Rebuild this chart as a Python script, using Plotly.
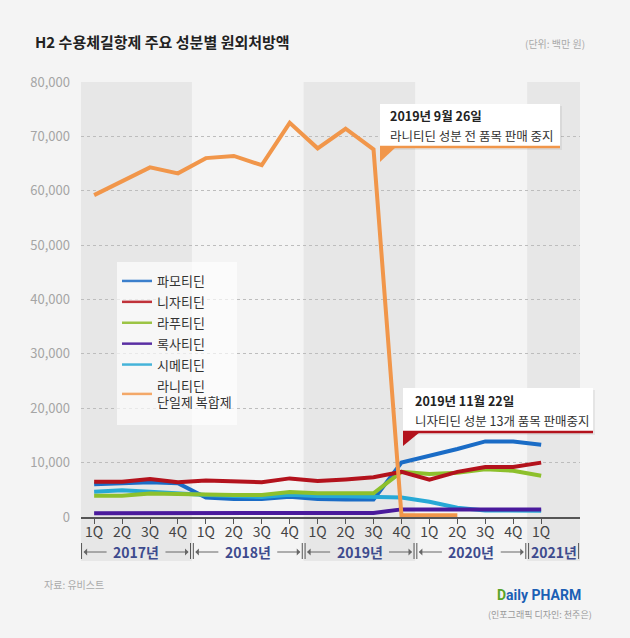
import plotly.graph_objects as go

# ---------------- data ----------------
periods = ["2017 1Q", "2017 2Q", "2017 3Q", "2017 4Q",
           "2018 1Q", "2018 2Q", "2018 3Q", "2018 4Q",
           "2019 1Q", "2019 2Q", "2019 3Q", "2019 4Q",
           "2020 1Q", "2020 2Q", "2020 3Q", "2020 4Q",
           "2021 1Q"]
quarter_labels = ["1Q", "2Q", "3Q", "4Q", "1Q", "2Q", "3Q", "4Q",
                  "1Q", "2Q", "3Q", "4Q", "1Q", "2Q", "3Q", "4Q", "1Q"]
years = ["2017년", "2018년", "2019년", "2020년", "2021년"]
quarters_per_year = [4, 4, 4, 4, 1]

famotidine = [6000, 6200, 6400, 6200, 3600, 3300, 3300, 3700, 3300, 3200, 3200,
              10000, 11200, 12500, 13900, 13900, 13300]
nizatidine = [6500, 6500, 7000, 6400, 6700, 6550, 6400, 7100, 6600, 6900, 7300,
              8300, 6850, 8300, 9200, 9200, 10000]
lafutidine = [3900, 3900, 4300, 4150, 4150, 4050, 4050, 4600, 4350, 4350, 4350,
              8300, 7900, 8150, 8800, 8500, 7600]
roxatidine = [700, 700, 700, 700, 700, 700, 700, 700, 700, 700, 750,
              1400, 1400, 1400, 1350, 1350, 1400]
cimetidine = [4650, 4900, 4650, 4300, 4050, 3850, 3700, 4100, 3850, 3800, 3700,
              3600, 2800, 1700, 1200, 1200, 1150]
ranitidine = [59200, 61700, 64300, 63200, 66000, 66400, 64700, 72500, 67800, 71400, 67600,
              300, 300, 300, None, None, None]

FONT = "Noto Sans CJK KR, Noto Sans, sans-serif"

# layout geometry (pixels)
W, H = 630, 638
L, R, T, B = 81, 580, 82, 517


def px(x):
    return (x - L) / (R - L)


def py(y):
    return (B - y) / (B - T)


# (name, values, line colour, legend colour, legend rank)
series = [
    ("파모티딘", famotidine, "#1a6cc6", "#3b7fcc", 1),
    ("시메티딘", cimetidine, "#27a9d6", "#45b3d9", 5),
    ("라푸티딘", lafutidine, "#8dc02c", "#9cc445", 3),
    ("니자티딘", nizatidine, "#b3121c", "#c0323a", 2),
    ("록사티딘", roxatidine, "#4a1a9c", "#5a2fa3", 4),
    ("라니티딘<br>단일제 복합제", ranitidine, "#f1964a", "#f3a869", 6),
]

fig = go.Figure()
for name, vals, color, lcolor, rank in series:
    fig.add_trace(go.Scatter(
        x=periods, y=vals, name=name, mode="lines",
        line=dict(color=color, width=4), showlegend=False,
        hoverinfo="skip"))
for name, vals, color, lcolor, rank in series:
    # legend-only entry with a thinner sample line
    fig.add_trace(go.Scatter(
        x=[None], y=[None], name=name, mode="lines", legendgroup=name,
        line=dict(color=lcolor, width=2.5), legendrank=rank,
        hoverinfo="skip"))

shapes = []
annotations = []

# year bands
start = -0.5
band_colors = ["#e7e7e7", "#f4f4f4"]
bounds = []
for i, n in enumerate(quarters_per_year):
    a = start
    b = start + n
    if i == len(quarters_per_year) - 1:
        b = 17.39
    bounds.append((a, b))
    shapes.append(dict(type="rect", xref="x", yref="paper", x0=a, x1=b,
                       y0=py(561), y1=1.0, fillcolor=band_colors[i % 2],
                       line=dict(width=0), layer="below"))
    start += n

# legend background
shapes.append(dict(type="rect", xref="paper", yref="paper", x0=px(117), x1=px(237),
                   y0=py(425), y1=py(262),
                   fillcolor="rgba(255,255,255,0.65)", line=dict(width=0), layer="above"))

# year labels, bars and arrows
ytxt = py(552)
for i, ((a, b), yl) in enumerate(zip(bounds, years)):
    c = (a + b) / 2
    annotations.append(dict(x=c, y=ytxt, xref="x", yref="paper", text="<b>" + yl + "</b>",
                            xanchor="center", yanchor="middle",
                            showarrow=False, font=dict(size=14, color="#3d4b8e", family=FONT)))
    for xb in (a + 0.05, b - 0.05):
        shapes.append(dict(type="line", xref="x", yref="paper", x0=xb, x1=xb,
                           y0=py(543), y1=py(559), line=dict(color="#555", width=1)))
    if i < 4:
        for tail, head in ((c - 1.0, a + 0.12), (c + 1.0, b - 0.12)):
            annotations.append(dict(x=head, y=ytxt, ax=tail, ay=0, xref="x", yref="paper",
                                    axref="x", ayref="pixel", text="", showarrow=True,
                                    arrowhead=1, arrowsize=1.2, arrowwidth=1,
                                    arrowcolor="#666"))

# callout 1
shapes += [
    dict(type="rect", xref="paper", yref="paper", x0=px(382), x1=px(562), y0=py(150), y1=py(106),
         fillcolor="rgba(0,0,0,0.06)", line=dict(width=0)),
    dict(type="rect", xref="paper", yref="paper", x0=px(380), x1=px(560), y0=py(147), y1=py(104),
         fillcolor="white", line=dict(width=0)),
    dict(type="line", xref="paper", yref="paper", x0=px(380), x1=px(560), y0=py(147), y1=py(147),
         line=dict(color="#f1964a", width=2.5)),
    dict(type="path", xref="paper", yref="paper",
         path=f"M {px(380)},{py(147)} L {px(396)},{py(147)} L {px(380)},{py(162)} Z",
         fillcolor="#f1964a", line=dict(width=0)),
]
annotations += [
    dict(x=px(388), y=py(116), xref="paper", yref="paper", xanchor="left", yanchor="middle",
         text="<b>2019년 9월 26일</b>", showarrow=False, font=dict(size=12.5, color="#222", family=FONT)),
    dict(x=px(388), y=py(135), xref="paper", yref="paper", xanchor="left", yanchor="middle",
         text="라니티딘 성분 전 품목 판매 중지", showarrow=False, font=dict(size=12.5, color="#333", family=FONT)),
]

# callout 2
shapes += [
    dict(type="rect", xref="paper", yref="paper", x0=px(405), x1=px(595), y0=py(435), y1=py(390),
         fillcolor="rgba(0,0,0,0.06)", line=dict(width=0)),
    dict(type="rect", xref="paper", yref="paper", x0=px(403), x1=px(593), y0=py(432), y1=py(388),
         fillcolor="white", line=dict(width=0)),
    dict(type="line", xref="paper", yref="paper", x0=px(403), x1=px(593), y0=py(432), y1=py(432),
         line=dict(color="#b3121c", width=2.5)),
    dict(type="path", xref="paper", yref="paper",
         path=f"M {px(403)},{py(432)} L {px(420)},{py(432)} L {px(403)},{py(446)} Z",
         fillcolor="#b3121c", line=dict(width=0)),
]
annotations += [
    dict(x=px(413), y=py(400), xref="paper", yref="paper", xanchor="left", yanchor="middle",
         text="<b>2019년 11월 22일</b>", showarrow=False, font=dict(size=12.5, color="#222", family=FONT)),
    dict(x=px(413), y=py(420), xref="paper", yref="paper", xanchor="left", yanchor="middle",
         text="니자티딘 성분 13개 품목 판매중지", showarrow=False, font=dict(size=12.5, color="#333", family=FONT)),
]

# title / unit / footer
annotations += [
    dict(x=px(33), y=py(42), xref="paper", yref="paper", xanchor="left", yanchor="middle",
         text="<b>H2 수용체길항제 주요 성분별 원외처방액</b>", showarrow=False,
         font=dict(size=15, color="#222", family=FONT)),
    dict(x=px(587), y=py(44), xref="paper", yref="paper", xanchor="right", yanchor="middle",
         text="(단위: 백만 원)", showarrow=False, font=dict(size=10, color="#aaa", family=FONT)),
    dict(x=px(42), y=py(584), xref="paper", yref="paper", xanchor="left", yanchor="middle",
         text="자료: 유비스트", showarrow=False, font=dict(size=10, color="#aaa", family=FONT)),
    dict(x=px(539), y=py(595), xref="paper", yref="paper", xanchor="center", yanchor="middle",
         text="<span style='color:#5aa42a'><b>D</b></span><b>aily PHARM</b>", showarrow=False,
         font=dict(size=14, color="#1b5fb5", family="Liberation Sans Narrow, Roboto, sans-serif")),
    dict(x=px(540), y=py(614), xref="paper", yref="paper", xanchor="center", yanchor="middle",
         text="(인포그래픽 디자인: 천주은)", showarrow=False, font=dict(size=9, color="#999", family=FONT)),
]

fig.update_layout(
    width=W, height=H,
    margin=dict(l=L, r=W - R, t=T, b=H - B, pad=0),
    paper_bgcolor="#f4f4f4", plot_bgcolor="#f4f4f4",
    font=dict(family=FONT),
    showlegend=True,
    legend=dict(x=px(117), y=py(266), xanchor="left", yanchor="top",
                bgcolor="rgba(0,0,0,0)", borderwidth=0,
                font=dict(size=13, color="#333", family=FONT),
                tracegroupgap=1, itemwidth=30),
    shapes=shapes, annotations=annotations,
    xaxis=dict(type="category", range=[-0.47, 17.39], tickvals=periods, ticktext=quarter_labels,
               showgrid=False, showline=True, linecolor="#555", linewidth=2,
               ticks="outside", ticklen=5, tickcolor="#555", tickwidth=1,
               ticklabelstandoff=-4,
               tickfont=dict(size=14, color="#444", family=FONT), zeroline=False, fixedrange=True),
    yaxis=dict(range=[0, 80000], dtick=10000, tickformat=",", showgrid=True,
               gridcolor="#bdbdbd", griddash="dot", gridwidth=1, zeroline=False,
               showline=False, ticks="", ticklabelstandoff=10,
               tickfont=dict(size=13, color="#a5a5a5", family=FONT)),
)

fig.write_html("out.html")
